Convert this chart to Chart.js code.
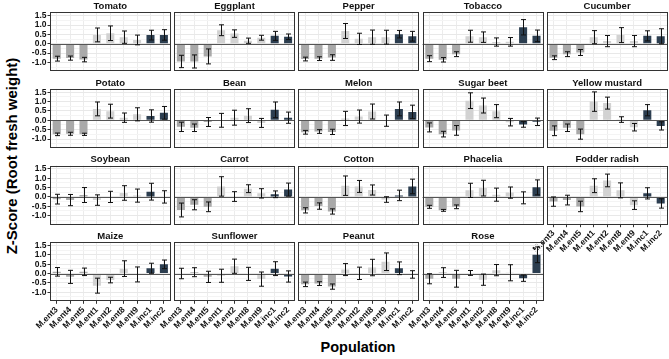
<!DOCTYPE html>
<html>
<head>
<meta charset="utf-8">
<script src="https://cdn.jsdelivr.net/npm/chart.js@4.4.1/dist/chart.umd.min.js"></script>
<style>
  body { margin: 0; background: #fff; }
  #wrap { position: relative; width: 669px; height: 359px; overflow: hidden; }
  #wrap canvas { position: absolute; left: 0; top: 0; }
  .ytitle { position: absolute; left: 10.5px; top: 156px; transform: translate(-50%, -50%) rotate(-90deg);
            font: bold 15px "Liberation Sans", Arial, sans-serif; white-space: nowrap; color: #000; }
  .xtitle { position: absolute; left: 358px; top: 347px; transform: translate(-50%, -50%);
            font: bold 14.5px "Liberation Sans", Arial, sans-serif; white-space: nowrap; color: #000; }
</style>
</head>
<body>
<div id="wrap">
  <div class="ytitle">Z-Score (Root fresh weight)</div>
  <div class="xtitle">Population</div>
</div>
<script>
const populations = ['M.ent3', 'M.ent4', 'M.ent5', 'M.ent1', 'M.ent2', 'M.ent8', 'M.ent9', 'M.inc1', 'M.inc2'];
const yTickLabels = [-1.0, -0.5, 0.0, 0.5, 1.0, 1.5];

const crops = ['Tomato', 'Eggplant', 'Pepper', 'Tobacco', 'Cucumber',
               'Potato', 'Bean', 'Melon', 'Sugar beet', 'Yellow mustard',
               'Soybean', 'Carrot', 'Cotton', 'Phacelia', 'Fodder radish',
               'Maize', 'Sunflower', 'Peanut', 'Rose'];

// mean z-scores and error bar half widths, populations in the order above
const tomatoMean = [-0.80, -0.77, -0.85, 0.47, 0.56, 0.35, 0.20, 0.46, 0.47];
const tomatoSe   = [0.13, 0.11, 0.12, 0.37, 0.39, 0.33, 0.26, 0.26, 0.28];
const eggplantMean = [-0.95, -0.95, -0.68, 0.72, 0.54, 0.16, 0.32, 0.42, 0.37];
const eggplantSe   = [0.33, 0.35, 0.40, 0.29, 0.20, 0.14, 0.13, 0.24, 0.15];
const pepperMean = [-0.82, -0.80, -0.74, 0.68, 0.26, 0.35, 0.35, 0.51, 0.40];
const pepperSe   = [0.10, 0.10, 0.15, 0.40, 0.30, 0.38, 0.37, 0.20, 0.26];
const tobaccoMean = [-0.80, -0.86, -0.56, 0.40, 0.35, 0.09, 0.10, 0.88, 0.42];
const tobaccoSe   = [0.16, 0.12, 0.13, 0.32, 0.28, 0.22, 0.23, 0.41, 0.31];
const cucumberMean = [-0.75, -0.56, -0.47, 0.35, 0.14, 0.46, 0.14, 0.42, 0.40];
const cucumberSe   = [0.10, 0.13, 0.16, 0.35, 0.30, 0.40, 0.30, 0.27, 0.40];
const potatoMean = [-0.75, -0.72, -0.75, 0.61, 0.49, 0.14, 0.32, 0.23, 0.40];
const potatoSe   = [0.07, 0.08, 0.06, 0.37, 0.37, 0.25, 0.35, 0.33, 0.34];
const beanMean = [-0.35, -0.40, -0.09, 0.00, 0.14, 0.25, -0.14, 0.56, 0.14];
const beanSe   = [0.25, 0.20, 0.24, 0.37, 0.40, 0.37, 0.24, 0.42, 0.30];
const melonMean = [-0.64, -0.60, -0.62, 0.10, 0.20, 0.47, -0.02, 0.61, 0.45];
const melonSe   = [0.10, 0.10, 0.14, 0.38, 0.35, 0.40, 0.30, 0.37, 0.36];
const sugarbeetMean = [-0.38, -0.74, -0.54, 1.05, 0.79, 0.49, -0.10, -0.22, -0.08];
const sugarbeetSe   = [0.24, 0.15, 0.26, 0.42, 0.40, 0.35, 0.20, 0.15, 0.20];
const mustardMean = [-0.56, -0.40, -0.74, 1.00, 0.92, 0.04, -0.37, 0.54, -0.30];
const mustardSe   = [0.26, 0.20, 0.27, 0.52, 0.32, 0.15, 0.20, 0.30, 0.22];
const soybeanMean = [-0.12, -0.17, 0.10, -0.17, 0.00, 0.21, 0.07, 0.28, 0.00];
const soybeanSe   = [0.26, 0.30, 0.40, 0.28, 0.30, 0.39, 0.35, 0.45, 0.33];
const carrotMean = [-0.70, -0.42, -0.53, 0.56, 0.02, 0.44, 0.19, 0.14, 0.39];
const carrotSe   = [0.37, 0.27, 0.26, 0.52, 0.26, 0.21, 0.25, 0.18, 0.35];
const cottonMean = [-0.72, -0.49, -0.78, 0.60, 0.56, 0.37, -0.14, 0.08, 0.56];
const cottonSe   = [0.14, 0.17, 0.14, 0.52, 0.32, 0.27, 0.15, 0.28, 0.39];
const phaceliaMean = [-0.53, -0.72, -0.53, 0.35, 0.47, 0.12, 0.23, -0.05, 0.51];
const phaceliaSe   = [0.08, 0.05, 0.10, 0.38, 0.42, 0.35, 0.30, 0.32, 0.40];
const radishMean = [-0.25, -0.17, -0.51, 0.60, 0.88, 0.35, -0.44, 0.19, -0.35];
const radishSe   = [0.25, 0.26, 0.28, 0.37, 0.34, 0.40, 0.23, 0.30, 0.25];
const maizeMean = [0.09, -0.18, 0.09, -0.65, -0.35, 0.26, -0.05, 0.28, 0.49];
const maizeSe   = [0.23, 0.35, 0.20, 0.40, 0.15, 0.42, 0.40, 0.27, 0.23];
const sunflowerMean = [0.00, 0.07, -0.18, -0.12, 0.39, -0.02, -0.30, 0.26, -0.16];
const sunflowerSe   = [0.28, 0.24, 0.30, 0.35, 0.38, 0.35, 0.38, 0.37, 0.30];
const peanutMean = [-0.58, -0.54, -0.70, 0.21, 0.01, 0.32, 0.63, 0.28, -0.05];
const peanutSe   = [0.12, 0.10, 0.14, 0.32, 0.33, 0.44, 0.47, 0.34, 0.20];
const roseMean = [-0.28, 0.05, -0.28, 0.03, -0.33, 0.18, 0.04, -0.25, 1.00];
const roseSe   = [0.27, 0.26, 0.45, 0.13, 0.30, 0.30, 0.43, 0.17, 0.42];

const means = [tomatoMean, eggplantMean, pepperMean, tobaccoMean, cucumberMean,
               potatoMean, beanMean, melonMean, sugarbeetMean, mustardMean,
               soybeanMean, carrotMean, cottonMean, phaceliaMean, radishMean,
               maizeMean, sunflowerMean, peanutMean, roseMean];
const errors = [tomatoSe, eggplantSe, pepperSe, tobaccoSe, cucumberSe,
                potatoSe, beanSe, melonSe, sugarbeetSe, mustardSe,
                soybeanSe, carrotSe, cottonSe, phaceliaSe, radishSe,
                maizeSe, sunflowerSe, peanutSe, roseSe];

const barColors = ['#a9a9a9', '#a9a9a9', '#a9a9a9', '#d2d2d2', '#d2d2d2', '#d2d2d2', '#d2d2d2', '#2c3e50', '#2c3e50'];
const FONT = '"Liberation Sans", Arial, sans-serif';

// panel geometry (plot frame of each facet)
const W = 120.6, H = 58.7;
const panelLeft = c => 50 + c * 124.2;
const panelTop = r => 12.3 + r * 76.6;

const yGrid = [];
for (let v = -1.25; v <= 1.5001; v += 0.25) yGrid.push(Math.round(v * 100) / 100);
const isLabelled = v => yTickLabels.some(t => Math.abs(t - v) < 1e-6);

function makeDeco(title, se) {
  return {
    id: 'panelDeco',
    afterDatasetsDraw(chart) {
      const ctx = chart.ctx, a = chart.chartArea, y = chart.scales.y;
      const data = chart.data.datasets[0].data;
      const meta = chart.getDatasetMeta(0);
      ctx.save();
      const y0 = Math.round(y.getPixelForValue(0)) + 0.5;
      ctx.strokeStyle = '#555';
      ctx.lineWidth = 1;
      ctx.beginPath();
      ctx.moveTo(a.left, y0);
      ctx.lineTo(a.right, y0);
      ctx.stroke();

      ctx.strokeStyle = '#111';
      meta.data.forEach((bar, i) => {
        const x = Math.round(bar.x) + 0.5;
        const yt = y.getPixelForValue(data[i] + se[i]);
        const yb = y.getPixelForValue(data[i] - se[i]);
        ctx.beginPath();
        ctx.moveTo(x, yt); ctx.lineTo(x, yb);
        ctx.moveTo(x - 2.5, yt); ctx.lineTo(x + 2.5, yt);
        ctx.moveTo(x - 2.5, yb); ctx.lineTo(x + 2.5, yb);
        ctx.stroke();
      });

      ctx.strokeStyle = '#333';
      ctx.strokeRect(Math.round(a.left) + 0.5, Math.round(a.top) + 0.5,
                     Math.round(a.right - a.left) - 1, Math.round(a.bottom - a.top) - 1);

      ctx.fillStyle = '#111';
      ctx.font = 'bold 9.5px ' + FONT;
      ctx.textAlign = 'center';
      ctx.textBaseline = 'middle';
      ctx.fillText(title, (a.left + a.right) / 2, a.top - 6);
      ctx.restore();
    }
  };
}

const wrap = document.getElementById('wrap');

crops.forEach((name, k) => {
  const r = Math.floor(k / 5), c = k % 5;
  const L = panelLeft(c), T = panelTop(r);
  const showY = c === 0;
  const showX = r === 3 || (r === 2 && c === 4);
  const yW = showY ? 30 : 0;
  const xH = showX ? 45 : 0;

  const cv = document.createElement('canvas');
  cv.width = 669;
  cv.height = 359;
  wrap.appendChild(cv);

  new Chart(cv, {
    type: 'bar',
    data: {
      labels: populations,
      datasets: [{
        data: means[k],
        backgroundColor: barColors,
        barPercentage: 0.6,
        categoryPercentage: 1
      }]
    },
    options: {
      responsive: false,
      animation: false,
      devicePixelRatio: 1,
      layout: { padding: { left: L - yW, right: 669 - L - W, top: T, bottom: 359 - T - H - xH } },
      plugins: { legend: { display: false }, tooltip: { enabled: false }, title: { display: false } },
      scales: {
        x: {
          offset: true,
          border: { display: false },
          grid: { offset: false, color: '#ececec', drawTicks: showX, tickLength: 3, tickColor: '#333' },
          ticks: {
            display: showX, autoSkip: false, minRotation: 45, maxRotation: 45, padding: 1,
            color: '#111', font: { family: FONT, weight: 'bold', size: 8.5 }
          },
          afterFit: s => { s.height = xH; }
        },
        y: {
          min: -1.46,
          max: 1.68,
          border: { display: false },
          afterBuildTicks: s => { s.ticks = yGrid.map(v => ({ value: v })); },
          grid: {
            color: ctx => isLabelled(ctx.tick.value) ? '#e8e8e8' : '#f4f4f4',
            drawTicks: showY,
            tickLength: 2.5,
            tickColor: ctx => isLabelled(ctx.tick.value) ? '#333' : 'rgba(0,0,0,0)'
          },
          ticks: {
            display: showY, autoSkip: false, padding: 1, color: '#111',
            font: { family: FONT, weight: 'bold', size: 8.5 },
            callback: v => isLabelled(v) ? v.toFixed(1) : ''
          },
          afterFit: s => { s.width = yW; }
        }
      }
    },
    plugins: [makeDeco(name, errors[k])]
  });
});
</script>
</body>
</html>
